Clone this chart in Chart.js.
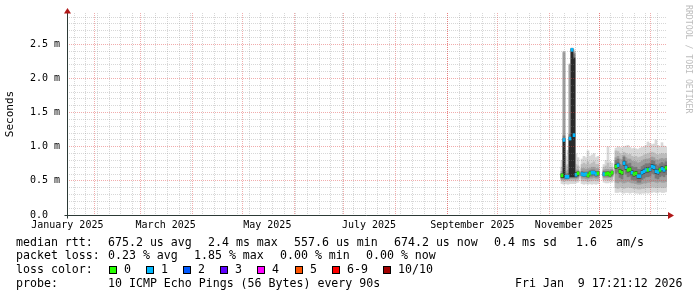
<!DOCTYPE html>
<html>
<head>
<meta charset="utf-8">
<script src="https://cdn.jsdelivr.net/npm/chart.js@4.4.1/dist/chart.umd.min.js"></script>
<style>
  body { margin: 0; background: #fff; }
  #wrap { position: relative; width: 697px; height: 297px; font-family: 'DejaVu Sans Mono', monospace; }
  #chart { position: absolute; left: 0; top: 0; }
  .t { position: absolute; font-size: 11.6px; line-height: 14px; white-space: pre; color: #000; }
  .box { position: absolute; width: 6px; height: 6px; border: 1px solid #000; top: 266px; }
  #mark { position: absolute; left: 685px; top: 5px; writing-mode: vertical-rl; font-size: 8.2px; line-height: 8px; color: #bdbdbd; white-space: pre; }
</style>
</head>
<body>
<div id="wrap">
  <canvas id="chart" width="697" height="297"></canvas>
  <div id="mark">RRDTOOL / TOBI OETIKER</div>

  <div class="t" style="left:16px;top:234.7px">median rtt:</div>
  <div class="t" style="left:108px;top:234.7px">675.2 us avg</div>
  <div class="t" style="left:208px;top:234.7px">2.4 ms max</div>
  <div class="t" style="left:294px;top:234.7px">557.6 us min</div>
  <div class="t" style="left:394px;top:234.7px">674.2 us now</div>
  <div class="t" style="left:494px;top:234.7px">0.4 ms sd</div>
  <div class="t" style="left:576px;top:234.7px">1.6</div>
  <div class="t" style="left:616px;top:234.7px">am/s</div>

  <div class="t" style="left:16px;top:248.3px">packet loss:</div>
  <div class="t" style="left:108px;top:248.3px">0.23 % avg</div>
  <div class="t" style="left:194px;top:248.3px">1.85 % max</div>
  <div class="t" style="left:280px;top:248.3px">0.00 % min</div>
  <div class="t" style="left:366px;top:248.3px">0.00 % now</div>

  <div class="t" style="left:16px;top:262.3px">loss color:</div>
  <div id="lossLegend"></div>

  <div class="t" style="left:16px;top:276px">probe:</div>
  <div class="t" style="left:108px;top:276px">10 ICMP Echo Pings (56 Bytes) every 90s</div>
  <div class="t" style="left:515px;top:276px">Fri Jan  9 17:21:12 2026</div>
</div>
<script>
// x values are days since 1 Jan 2025, one column every 1.2 days
var days = [311.8, 313.0, 314.2, 315.4, 316.6, 317.8, 319.0, 320.2, 321.4, 322.6,
            323.8, 325.0, 326.2, 327.4, 328.6, 329.8, 331.0, 332.2, 333.4, 334.6,
            335.8, 337.0, 338.2, 339.4, 340.6, 341.8, 343.0, 344.2, 345.4, 346.6,
            347.8, 349.0, 350.2, 351.4, 352.6, 353.8, 355.0, 356.2, 357.4, 358.6,
            359.8, 361.0, 362.2, 363.4, 364.6, 365.8, 367.0, 368.2, 369.4, 370.6,
            371.8, 373.0, 374.2];

// smoke bands in ms, outermost ping pair (min/max) to innermost pair
var band1Lo = [0.46, 0.45, 0.46, 0.45, 0.46, 0.46, 0.46, 0.47, 0.48, null,
               0.46, 0.45, 0.46, 0.45, 0.46, 0.45, 0.46, 0.45, 0.46, null, null,
               0.48, 0.47, 0.47, 0.48, 0.48, null,
               0.33, 0.33, 0.34, 0.33, 0.32, 0.33, 0.33, 0.32, 0.33, 0.33, 0.32, 0.32, 0.31,
               0.32, 0.32, 0.33, 0.32, 0.33, 0.33, 0.34, 0.33, 0.33, 0.34, 0.33, 0.33, 0.34];
var band1Hi = [0.80, 2.40, 0.86, 0.95, 2.22, 2.45, 2.42, 0.90, 0.84, null,
               0.82, 0.86, 0.84, 0.94, 0.86, 0.88, 0.90, 0.84, 0.86, null, null,
               0.74, 0.80, 1.00, 0.78, 0.76, null,
               0.98, 1.00, 0.99, 0.98, 1.00, 1.01, 1.02, 0.99, 0.97, 0.98, 0.97, 0.96, 0.98,
               0.99, 1.00, 1.02, 1.07, 1.05, 1.03, 1.04, 1.10, 1.02, 1.00, 1.06, 1.01, 1.00];
var band2Lo = [0.50, 0.49, 0.50, 0.50, 0.50, 0.50, 0.50, 0.50, 0.51, null,
               0.50, 0.50, 0.50, 0.49, 0.50, 0.50, 0.51, 0.50, 0.50, null, null,
               0.52, 0.52, 0.51, 0.52, 0.52, null,
               0.40, 0.39, 0.41, 0.40, 0.39, 0.40, 0.41, 0.40, 0.40, 0.39, 0.39, 0.38, 0.38,
               0.39, 0.39, 0.40, 0.40, 0.40, 0.41, 0.41, 0.40, 0.40, 0.41, 0.40, 0.40, 0.41];
var band2Hi = [0.70, 2.39, 0.72, 0.74, 2.20, 2.44, 2.40, 0.74, 0.72, null,
               0.74, 0.76, 0.74, 0.78, 0.74, 0.76, 0.78, 0.74, 0.74, null, null,
               0.70, 0.72, 0.76, 0.70, 0.70, null,
               0.94, 0.93, 0.90, 0.88, 0.92, 0.90, 0.88, 0.89, 0.86, 0.85, 0.86, 0.84, 0.85,
               0.86, 0.88, 0.89, 0.90, 0.91, 0.92, 0.91, 0.89, 0.88, 0.89, 0.90, 0.89, 0.90];
var band3Lo = [0.52, 0.52, 0.52, 0.52, 0.53, 0.53, 0.53, 0.53, 0.54, null,
               0.54, 0.54, 0.53, 0.53, 0.54, 0.54, 0.55, 0.54, 0.54, null, null,
               0.55, 0.55, 0.55, 0.55, 0.56, null,
               0.48, 0.47, 0.49, 0.48, 0.47, 0.48, 0.49, 0.48, 0.47, 0.47, 0.46, 0.45, 0.45,
               0.46, 0.47, 0.47, 0.48, 0.48, 0.49, 0.49, 0.48, 0.48, 0.49, 0.48, 0.48, 0.49];
var band3Hi = [0.64, 2.38, 0.64, 0.66, 2.20, 2.44, 2.38, 0.66, 0.66, null,
               0.68, 0.68, 0.67, 0.68, 0.68, 0.70, 0.70, 0.68, 0.68, null, null,
               0.66, 0.67, 0.67, 0.66, 0.67, null,
               0.84, 0.86, 0.82, 0.81, 0.87, 0.84, 0.82, 0.82, 0.79, 0.78, 0.78, 0.76, 0.77,
               0.79, 0.81, 0.82, 0.82, 0.83, 0.85, 0.84, 0.81, 0.80, 0.82, 0.83, 0.82, 0.83];
var band4Lo = [0.54, 0.54, 0.53, 0.54, 0.55, 0.55, 0.55, 0.55, 0.56, null,
               0.57, 0.56, 0.56, 0.55, 0.57, 0.57, 0.58, 0.56, 0.57, null, null,
               0.57, 0.57, 0.57, 0.57, 0.58, null,
               0.61, 0.63, 0.55, 0.53, 0.66, 0.60, 0.56, 0.57, 0.52, 0.51, 0.51, 0.48, 0.48,
               0.52, 0.54, 0.56, 0.56, 0.57, 0.61, 0.60, 0.54, 0.53, 0.56, 0.58, 0.56, 0.59];
var band4Hi = [0.61, 1.16, 0.60, 0.61, 1.18, 2.44, 2.36, 0.63, 0.64, null,
               0.64, 0.63, 0.63, 0.63, 0.65, 0.66, 0.66, 0.64, 0.64, null, null,
               0.64, 0.64, 0.64, 0.63, 0.65, null,
               0.80, 0.82, 0.74, 0.72, 0.85, 0.79, 0.75, 0.76, 0.71, 0.70, 0.70, 0.67, 0.67,
               0.71, 0.73, 0.75, 0.75, 0.76, 0.80, 0.79, 0.74, 0.72, 0.75, 0.77, 0.75, 0.78];
var band5Lo = [0.55, 0.55, 0.54, 0.54, 0.56, 0.56, 0.56, 0.56, 0.58, null,
               0.58, 0.57, 0.58, 0.56, 0.59, 0.60, 0.60, 0.58, 0.59, null, null,
               0.58, 0.58, 0.59, 0.57, 0.60, null,
               0.68, 0.70, 0.61, 0.59, 0.73, 0.67, 0.63, 0.64, 0.59, 0.57, 0.58, 0.54, 0.54,
               0.59, 0.61, 0.63, 0.63, 0.64, 0.68, 0.67, 0.61, 0.60, 0.63, 0.65, 0.63, 0.66];
var band5Hi = [0.60, 1.12, 0.58, 0.58, 1.14, 2.43, 2.30, 0.62, 0.63, null,
               0.62, 0.61, 0.62, 0.60, 0.63, 0.64, 0.64, 0.62, 0.63, null, null,
               0.62, 0.62, 0.63, 0.61, 0.64, null,
               0.74, 0.76, 0.67, 0.65, 0.79, 0.73, 0.69, 0.70, 0.65, 0.63, 0.64, 0.60, 0.60,
               0.65, 0.67, 0.69, 0.69, 0.70, 0.74, 0.73, 0.67, 0.66, 0.69, 0.71, 0.69, 0.72];

// median rtt (ms) and lost pings out of 10
var median = [0.58, 1.10, 0.56, 0.56, 1.12, 2.42, 1.17, 0.59, 0.61, null,
              0.60, 0.59, 0.60, 0.58, 0.61, 0.62, 0.62, 0.60, 0.61, null, null,
              0.60, 0.60, 0.61, 0.59, 0.62, null,
              0.71, 0.73, 0.64, 0.62, 0.76, 0.70, 0.66, 0.67, 0.62, 0.60, 0.61, 0.57, 0.57,
              0.62, 0.64, 0.66, 0.66, 0.67, 0.71, 0.70, 0.64, 0.63, 0.66, 0.68, 0.66, 0.69];
var lost = [0, 1, 1, 1, 1, 1, 1, 1, 0, null,
            1, 1, 1, 0, 0, 1, 1, 1, 0, null, null,
            1, 0, 0, 0, 0, null,
            0, 1, 0, 0, 1, 1, 0, 0, 1, 0, 0, 1, 1,
            1, 1, 1, 0, 1, 1, 1, 1, 1, 0, 1, 1, 0];

var lossNames = ['0', '1', '2', '3', '4', '5', '6-9', '10/10'];
var lossColors = ['#26ff00', '#00b8ff', '#0059ff', '#5e00ff', '#ff00ff', '#ff5500', '#ff0000', '#a10000'];

// x axis: month labels sit mid-month, red lines on the 1st, grey lines on Mondays
var labelDays = [15, 74, 135, 196, 258, 319];
var labelTexts = ['January 2025', 'March 2025', 'May 2025', 'July 2025', 'September 2025', 'November 2025'];
var monthStarts = [31, 59, 90, 120, 151, 181, 212, 243, 273, 304, 334, 365];
var firstMonday = 19;

var xMin = 14.8, xMax = 374.8;
var yMax = 2.96;

var axisColor = '#2c3a36';
var arrowColor = '#b01818';
var minorGrid = 'rgba(130,130,130,0.32)';
var majorGrid = 'rgba(225,70,70,0.45)';

var weekDays = [];
for (let d = firstMonday; d < xMax; d += 7) weekDays.push(d);

var xTicks = [].concat(weekDays, monthStarts, labelDays).sort((a, b) => a - b);
var yTicks = [];
for (let i = 0; i * 0.1 < yMax; i++) yTicks.push(i / 10);

function floatBars(lo, hi) {
    var pts = [];
    for (let i = 0; i < days.length; i++) {
        if (lo[i] === null) continue;
        pts.push({ x: days[i], y: [lo[i], hi[i]] });
    }
    return pts;
}

var medianPts = [], medianColors = [];
for (let i = 0; i < days.length; i++) {
    if (median[i] === null) continue;
    medianPts.push({ x: days[i], y: [median[i] - 0.022, median[i] + 0.022] });
    medianColors.push(lossColors[lost[i]]);
}

function barSet(label, data, color, order) {
    return {
        label: label,
        data: data,
        backgroundColor: color,
        borderWidth: 0,
        grouped: false,
        barThickness: 2,
        order: order
    };
}

// axis lines with the rrdtool arrow heads
var axisArrows = {
    id: 'axisArrows',
    afterDraw(chart) {
        var ctx = chart.ctx, a = chart.chartArea;
        var xl = Math.round(a.left) + 0.5, yb = Math.round(a.bottom) + 0.5;
        ctx.save();
        ctx.strokeStyle = axisColor;
        ctx.lineWidth = 1;
        ctx.beginPath();
        ctx.moveTo(xl - 3, yb); ctx.lineTo(a.right + 2, yb);
        ctx.moveTo(xl, a.top); ctx.lineTo(xl, yb + 3);
        ctx.stroke();
        ctx.fillStyle = arrowColor;
        ctx.beginPath();
        ctx.moveTo(a.right + 1, yb - 3.5); ctx.lineTo(a.right + 7, yb); ctx.lineTo(a.right + 1, yb + 3.5);
        ctx.fill();
        ctx.beginPath();
        ctx.moveTo(xl - 3.5, a.top + 0.5); ctx.lineTo(xl, a.top - 5); ctx.lineTo(xl + 3.5, a.top + 0.5);
        ctx.fill();
        ctx.restore();
    }
};

const ctx = document.getElementById('chart').getContext('2d');
const smokeChart = new Chart(ctx, {
    type: 'bar',
    data: {
        datasets: [
            barSet('median', medianPts, medianColors, 0),
            barSet('pings 5-6', floatBars(band5Lo, band5Hi), '#2a2a2a', 1),
            barSet('pings 4-7', floatBars(band4Lo, band4Hi), '#7a7a7a', 2),
            barSet('pings 3-8', floatBars(band3Lo, band3Hi), '#9e9e9e', 3),
            barSet('pings 2-9', floatBars(band2Lo, band2Hi), '#bcbcbc', 4),
            barSet('pings 1-10', floatBars(band1Lo, band1Hi), '#d8d8d8', 5)
        ]
    },
    options: {
        responsive: false,
        devicePixelRatio: 1,
        animation: false,
        layout: { padding: { top: 13, right: 30, bottom: 0, left: 0 } },
        plugins: {
            legend: { display: false },
            tooltip: { enabled: false }
        },
        scales: {
            x: {
                type: 'linear',
                min: xMin,
                max: xMax,
                offset: false,
                afterFit: s => { s.height = 82; },
                afterBuildTicks: s => { s.ticks = xTicks.map(v => ({ value: v })); },
                grid: {
                    offset: false,
                    z: 1,
                    drawTicks: false,
                    lineWidth: 1,
                    color: c => {
                        var v = c.tick ? c.tick.value : null;
                        if (monthStarts.indexOf(v) >= 0) return majorGrid;
                        if (weekDays.indexOf(v) >= 0) return minorGrid;
                        return 'rgba(0,0,0,0)';
                    }
                },
                border: { display: false, dash: [1, 1] },
                ticks: {
                    autoSkip: false,
                    maxRotation: 0,
                    padding: 4,
                    color: '#000',
                    font: { family: 'DejaVu Sans Mono', size: 10 },
                    callback: v => {
                        var i = labelDays.indexOf(v);
                        return i >= 0 ? labelTexts[i] : '';
                    }
                }
            },
            y: {
                type: 'linear',
                min: 0,
                max: yMax,
                afterFit: s => { s.width = 67; },
                afterBuildTicks: s => { s.ticks = yTicks.map(v => ({ value: v })); },
                grid: {
                    z: 1,
                    drawTicks: false,
                    lineWidth: 1,
                    color: c => {
                        if (!c.tick || c.tick.value === 0) return 'rgba(0,0,0,0)';
                        return Math.round(c.tick.value * 10) % 5 === 0 ? majorGrid : minorGrid;
                    }
                },
                border: { display: false, dash: [1, 1] },
                title: {
                    display: true,
                    text: 'Seconds',
                    color: '#000',
                    font: { family: 'DejaVu Sans Mono', size: 11 },
                    padding: { top: 4, bottom: 0 }
                },
                ticks: {
                    autoSkip: false,
                    padding: 7,
                    color: '#000',
                    font: { family: 'DejaVu Sans Mono', size: 10 },
                    callback: v => {
                        var n = Math.round(v * 10);
                        if (n % 5 !== 0) return '';
                        return n === 0 ? '0.0  ' : (n / 10).toFixed(1) + ' m';
                    }
                }
            }
        }
    },
    plugins: [axisArrows]
});

// loss colour legend, laid out like the rrdtool legend row
var boxX = [109, 146, 183, 220, 257, 295, 332, 383];
var legend = document.getElementById('lossLegend');
lossNames.forEach((name, i) => {
    var box = document.createElement('div');
    box.className = 'box';
    box.style.left = boxX[i] + 'px';
    box.style.background = lossColors[i];
    legend.appendChild(box);
    var txt = document.createElement('div');
    txt.className = 't';
    txt.style.left = (boxX[i] + 15) + 'px';
    txt.style.top = '262.3px';
    txt.textContent = name;
    legend.appendChild(txt);
});
</script>
</body>
</html>
